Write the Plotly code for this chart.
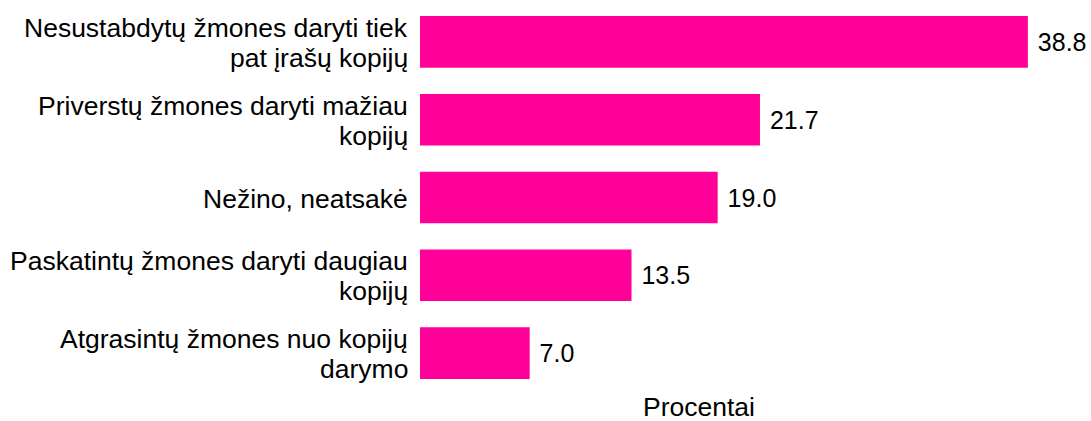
import plotly.graph_objects as go

category_lines = [
    ["Nesustabdytų žmones daryti tiek", "pat įrašų kopijų"],
    ["Priverstų žmones daryti mažiau", "kopijų"],
    ["Nežino, neatsakė"],
    ["Paskatintų žmones daryti daugiau", "kopijų"],
    ["Atgrasintų žmones nuo kopijų", "darymo"],
]
categories = ["<br>".join(lines) for lines in category_lines]
values = [38.8, 21.7, 19.0, 13.5, 7.0]
value_labels = [f"{v:.1f}" for v in values]
axis_title = "Procentai"

FONT = "Liberation Sans, Arial, sans-serif"
LABEL_SIZE = 26.5
VALUE_SIZE = 25

fig = go.Figure(go.Bar(
    y=categories,
    x=values,
    orientation="h",
    marker=dict(color="#FF0099", line=dict(width=0)),
    text=[" " + t for t in value_labels],
    textposition="outside",
    textfont=dict(family=FONT, size=VALUE_SIZE, color="#000000"),
    cliponaxis=False,
    hoverinfo="skip",
))

annotations = []
for cat, lines in zip(categories, category_lines):
    if len(lines) == 1:
        shifts = [-1]
    else:
        shifts = [14, -16]
    for line, ys in zip(lines, shifts):
        annotations.append(dict(
            text=line, xref="paper", yref="y", x=0, y=cat,
            xanchor="right", yanchor="middle", xshift=-10, yshift=ys,
            showarrow=False,
            font=dict(family=FONT, size=LABEL_SIZE, color="#000000"),
        ))

annotations.append(dict(
    text=axis_title, xref="paper", yref="paper",
    x=(699 - 420) / 658, y=-0.0373, xanchor="center", yanchor="middle",
    showarrow=False, font=dict(family=FONT, size=LABEL_SIZE, color="#000000"),
))

fig.update_layout(
    width=1091, height=421,
    margin=dict(l=420, r=13, t=3, b=29),
    paper_bgcolor="white",
    plot_bgcolor="white",
    bargap=0.337,
    showlegend=False,
    font=dict(family=FONT, size=LABEL_SIZE, color="#000000"),
    xaxis=dict(range=[0, 42], showticklabels=False, showgrid=False,
               zeroline=False, showline=False, ticks=""),
    yaxis=dict(autorange="reversed", showgrid=False, zeroline=False,
               showline=False, ticks="", showticklabels=False),
    annotations=annotations,
)

fig.write_html("out.html", config={"displayModeBar": False},
               post_script="document.body.style.margin='0';")
